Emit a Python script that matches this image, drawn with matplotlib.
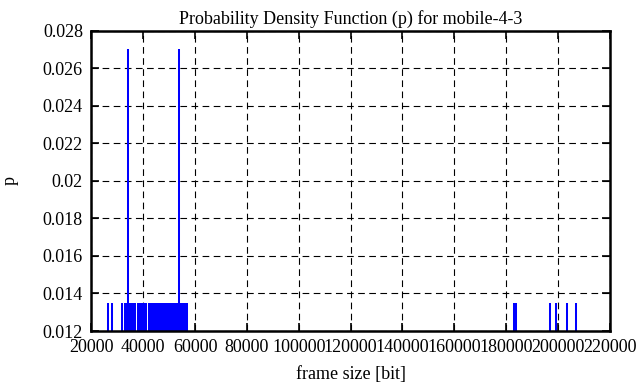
import numpy as np
import matplotlib
matplotlib.use("Agg")
import matplotlib.pyplot as plt
from matplotlib.ticker import FormatStrFormatter, MultipleLocator

# frame sizes [bit] of mobile-4-3 (74 frames)
left_group = [26400, 27870, 31800,
              32880, 33260, 33610, 34070, 34070, 34420, 34830, 35190, 35560,
              35980, 36390, 36840,
              37890, 38310, 38720, 39150, 39590, 40180,
              41290]
middle_group = [42250, 42610, 42930, 43300, 43720, 44050, 44390, 44590,
                44780, 45120, 45470, 45850, 46180, 46560, 46900, 47230,
                47610, 47980, 48320, 48690, 49040, 49370, 49760, 50110,
                50430, 50820, 51170, 51350, 51520, 51880, 52240, 52590,
                52960, 53310, 53680, 54010, 54010, 54380, 54720, 55060,
                55430, 55790, 56120, 56480, 56900]
right_group = [183000, 183450, 183900, 196800, 199100, 203350, 206800]

frame_sizes = np.array(left_group + middle_group + right_group)

# probability density: count of each frame size / number of frames
sizes, counts = np.unique(frame_sizes, return_counts=True)
p = counts / len(frame_sizes)

plt.rcParams['font.family'] = ['Liberation Serif', 'DejaVu Serif']
plt.rcParams['font.size'] = 13

fig = plt.figure(figsize=(6.41, 3.87), dpi=100)
ax = fig.add_axes([0.1424, 0.1447, 0.8092, 0.776])

ax.vlines(sizes, 0, p, color='#0000ff', linewidth=1.45, zorder=3)

ax.set_xlim(20000, 220000)
ax.set_ylim(0.012, 0.028)
ax.xaxis.set_major_locator(MultipleLocator(20000))
ax.yaxis.set_major_locator(MultipleLocator(0.002))
ax.yaxis.set_major_formatter(FormatStrFormatter('%g'))
ax.xaxis.set_major_formatter(FormatStrFormatter('%d'))

ax.grid(True, color='black', linestyle=(0, (6, 4)), linewidth=0.8, zorder=1)
ax.tick_params(direction='in', length=6, width=1.2, top=True, right=True,
               pad=6, labelsize=13)
for sp in ax.spines.values():
    sp.set_linewidth(1.8)
    sp.set_zorder(4)

ax.set_title('Probability Density Function (p) for mobile-4-3', fontsize=13, pad=5)
ax.set_xlabel('frame size [bit]', fontsize=13, labelpad=7)
ax.set_ylabel('p', fontsize=13, labelpad=17)

fig.savefig('out.png', dpi=100)
